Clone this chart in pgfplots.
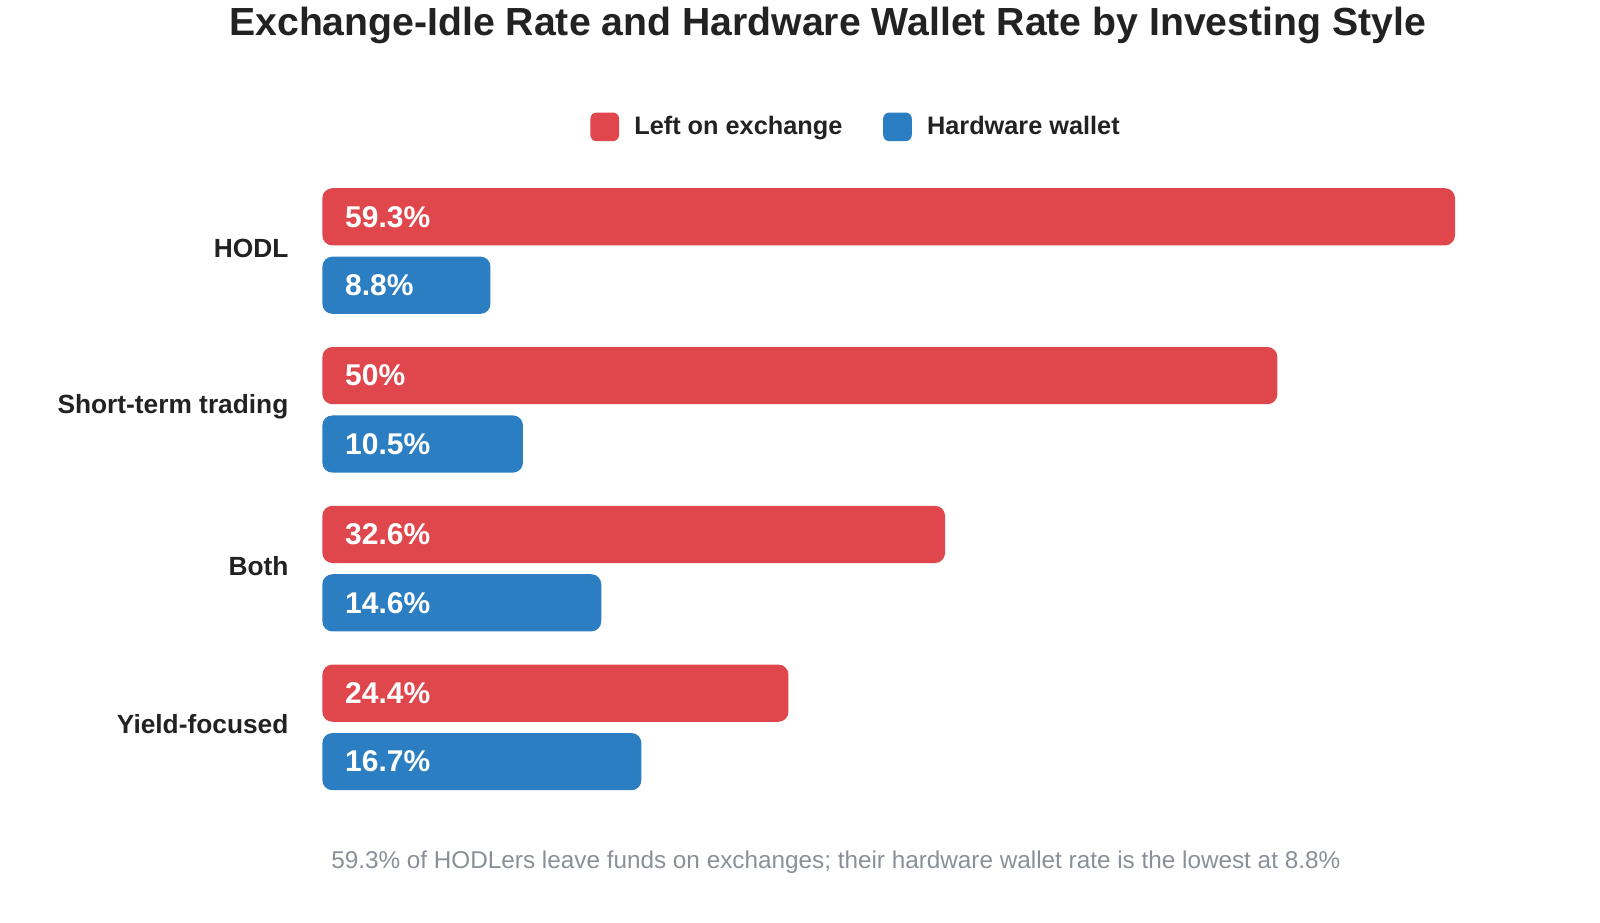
\documentclass[border=0pt]{standalone}
\usepackage{pgfplots}
\pgfplotsset{compat=1.18}
\usepackage{fontspec}
\setmainfont{Liberation Sans}
\definecolor{barred}{HTML}{E0474C}
\definecolor{barblue}{HTML}{2B7EC1}
\definecolor{notegray}{HTML}{8A8F98}
\definecolor{titlegray}{HTML}{222222}
\begin{document}
\begin{tikzpicture}
\path[use as bounding box] (0,0) rectangle (800pt,-461pt);
\node[font=\fontsize{19.6pt}{23pt}\selectfont\bfseries, text=titlegray, inner sep=0pt] at (413.8pt,-12.8pt) {Exchange-Idle Rate and Hardware Wallet Rate by Investing Style};
\begin{axis}[
 at={(161.2pt,-85.8pt)}, anchor=north west,
 scale only axis, width=566.3pt, height=317.6pt,
 xmin=0, xmax=59.3, ymin=-0.5, ymax=3.5, y dir=reverse,
 axis x line=none,
 axis y line*=left, y axis line style={draw=none},
 major tick length=0pt,
 ytick={0,1,2,3},
 yticklabels={HODL,Short-term trading,Both,Yield-focused},
 yticklabel style={font=\fontsize{13.15pt}{16pt}\selectfont\bfseries, text=titlegray, inner sep=0pt, anchor=east, xshift=-16.8pt, yshift=1.5pt},
 clip=false,
 xbar, bar width=28.6pt, bar shift=0pt,
 legend style={at={(0.4703,1.0705)}, anchor=center, draw=none, fill=none, legend columns=2,
   font=\fontsize{12.65pt}{15pt}\selectfont\bfseries, text=titlegray,
   nodes={inner sep=0pt},
   /tikz/every odd column/.append style={column sep=7.65pt},
   /tikz/every even column/.append style={column sep=20.4pt}},
 legend image code/.code={\fill[#1, rounded corners=3pt] (0pt,-7.15pt) rectangle (14.3pt,7.15pt);},
]
\addplot[fill=barred, draw=none, rounded corners=5pt] coordinates {(59.3,-0.2154) (50,0.7846) (32.6,1.7846) (24.4,2.7846)};
\addlegendentry{Left on exchange}
\addplot[fill=barblue, draw=none, rounded corners=5pt] coordinates {(8.8,0.2154) (10.5,1.2154) (14.6,2.2154) (16.7,3.2154)};
\addlegendentry{Hardware wallet}
\addplot[draw=none, fill=none, forget plot, point meta=explicit symbolic,
  nodes near coords={\pgfplotspointmeta\%},
  every node near coord/.style={anchor=west, inner sep=0pt, xshift=11.2pt, text=white, font=\fontsize{15pt}{18pt}\selectfont\bfseries}]
  coordinates {(0,-0.2154) [59.3] (0,0.7846) [50] (0,1.7846) [32.6] (0,2.7846) [24.4]
               (0,0.2154) [8.8] (0,1.2154) [10.5] (0,2.2154) [14.6] (0,3.2154) [16.7]};
\end{axis}
\node[font=\fontsize{12.15pt}{15pt}\selectfont, text=notegray, inner sep=0pt] at (417.9pt,-431pt) {59.3\% of HODLers leave funds on exchanges; their hardware wallet rate is the lowest at 8.8\%};
\end{tikzpicture}
\end{document}
